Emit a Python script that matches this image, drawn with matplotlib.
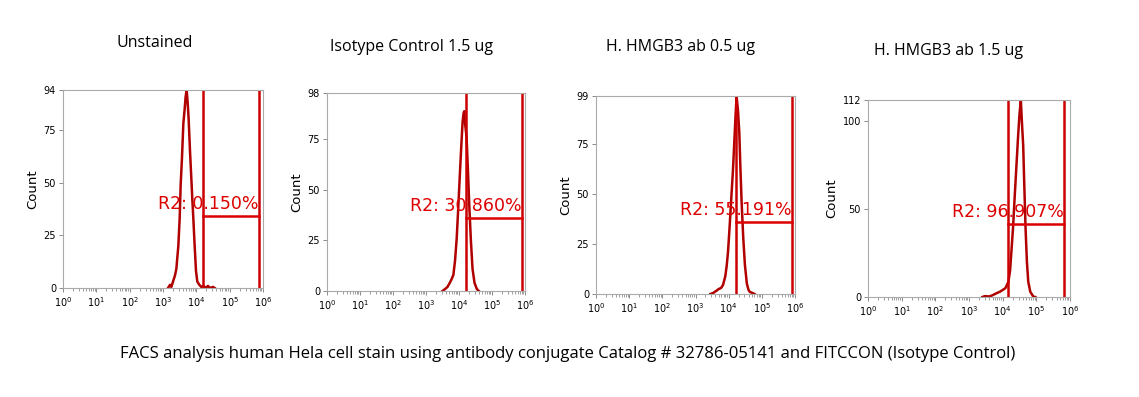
import numpy as np
import matplotlib
matplotlib.use("Agg")
import matplotlib.pyplot as plt
from matplotlib.ticker import LogLocator, NullFormatter

# panel titles and gate labels
titles = ["Unstained", "Isotype Control 1.5 ug", "H. HMGB3 ab 0.5 ug", "H. HMGB3 ab 1.5 ug"]
gate_labels = ["R2: 0.150%", "R2: 30.860%", "R2: 55.191%", "R2: 96.907%"]
ymax = [94, 98, 99, 112]
yticks = [[0, 25, 50, 75, 94], [0, 25, 50, 75, 98], [0, 25, 50, 75, 99], [0, 50, 100, 112]]

# histogram outlines: log10 fluorescence and counts
log_unstained = [3.15, 3.21, 3.25, 3.30, 3.36, 3.40, 3.46, 3.50, 3.53, 3.57, 3.61, 3.65, 3.68, 3.71,
                 3.74, 3.77, 3.81, 3.85, 3.88, 3.91, 3.95, 3.99, 4.03, 4.09, 4.15, 4.22, 4.28, 4.35, 4.40, 4.50, 4.55]
cnt_unstained = [0, 1.5, 0.5, 3, 6, 9, 20, 33, 49, 62, 78, 85, 91, 94,
                 88, 80, 65, 52, 42, 33, 20, 8, 3, 1.5, 0.5, 1, 0, 1, 0, 0.5, 0]

log_isotype = [3.50, 3.58, 3.65, 3.72, 3.78, 3.83, 3.88, 3.93, 3.98, 4.03, 4.07, 4.11, 4.14, 4.16,
               4.19, 4.23, 4.27, 4.31, 4.36, 4.41, 4.47, 4.54, 4.60]
cnt_isotype = [0, 1, 2, 4, 6, 8, 15, 26, 42, 59, 72, 84, 88, 89,
               82, 76, 60, 43, 25, 11, 4, 1, 0]

log_ab05 = [3.45, 3.53, 3.62, 3.70, 3.77, 3.83, 3.90, 3.94, 3.98, 4.03, 4.09, 4.13, 4.17, 4.21, 4.24,
            4.28, 4.32, 4.35, 4.39, 4.44, 4.49, 4.55, 4.60, 4.64, 4.72, 4.78]
cnt_ab05 = [0, 0.5, 1.5, 2.5, 3, 4.5, 9, 14, 21, 34, 51, 62, 76, 90, 98.5,
            92, 81, 65, 46, 28, 14.5, 5, 2, 1, 0.5, 0]

log_ab15 = [3.40, 3.47, 3.60, 3.70, 3.80, 3.92, 4.00, 4.08, 4.13, 4.17, 4.22, 4.26, 4.31, 4.36, 4.41,
            4.46, 4.50, 4.54, 4.57, 4.61, 4.64, 4.68, 4.72, 4.76, 4.82, 4.91, 4.97]
cnt_ab15 = [0, 0.5, 0.3, 1, 2, 3, 4, 5, 7, 8.7, 15, 26, 40, 58, 75,
            92, 104, 112, 100, 86, 65, 39, 20, 8.7, 3, 0.2, 0]

logs = [log_unstained, log_isotype, log_ab05, log_ab15]
counts = [cnt_unstained, cnt_isotype, cnt_ab05, cnt_ab15]

# gate: left/right log10 edges and marker height
gate_left = [4.20, 4.20, 4.21, 4.15]
gate_right = [5.88, 5.90, 5.90, 5.82]
gate_y = [34, 36, 36, 41.5]

W, H = 1139, 397
fig = plt.figure(figsize=(W / 100, H / 100), dpi=100)

boxes = [(63, 263, 90, 288), (327, 525, 93, 291), (596, 795, 96, 294), (868, 1070, 100, 297)]
title_pos = [(155, 43), (411, 47), (681, 47), (948, 51)]

for i in range(4):
    l, r, t, b = boxes[i]
    ax = fig.add_axes([l / W, (H - b) / H, (r - l) / W, (b - t) / H])
    x = 10 ** np.array(logs[i])
    ax.plot(x, counts[i], color="#b00000", lw=1.8)
    gl, gr = 10 ** gate_left[i], 10 ** gate_right[i]
    ax.axvline(gl, color="#cc0000", lw=1.8)
    ax.axvline(gr, color="#cc0000", lw=1.8)
    ax.plot([gl, gr], [gate_y[i], gate_y[i]], color="#dd0000", lw=1.8)
    ax.text(gr, gate_y[i] + 1.5, gate_labels[i], color="#dd0000", fontsize=12.5,
            ha="right", va="bottom", family="DejaVu Sans")
    ax.set_xscale("log")
    ax.set_xlim(1, 1e6)
    ax.set_ylim(0, ymax[i])
    ax.set_xticks([10 ** k for k in range(7)])
    ax.set_xticklabels([r"$10^{%d}$" % k for k in range(7)])
    ax.xaxis.set_minor_locator(LogLocator(base=10, subs=np.arange(2, 10), numticks=20))
    ax.xaxis.set_minor_formatter(NullFormatter())
    ax.set_yticks(yticks[i])
    ax.tick_params(axis="both", labelsize=7, length=3, width=0.6, color="#777777", pad=2)
    ax.tick_params(axis="x", which="minor", length=2, width=0.5, color="#777777")
    for s in ax.spines.values():
        s.set_color("#aaaaaa")
        s.set_linewidth(0.8)
    ax.set_ylabel("Count", fontsize=9.5, labelpad=3)
    tx, ty = title_pos[i]
    fig.text(tx / W, 1 - ty / H, titles[i], ha="center", va="center", fontsize=11.5, family="Open Sans")

fig.text(568 / W, 1 - 354 / H,
         "FACS analysis human Hela cell stain using antibody conjugate Catalog # 32786-05141 and FITCCON (Isotype Control)",
         ha="center", va="center", fontsize=12, family="Open Sans")

fig.savefig("out.png", dpi=100)
